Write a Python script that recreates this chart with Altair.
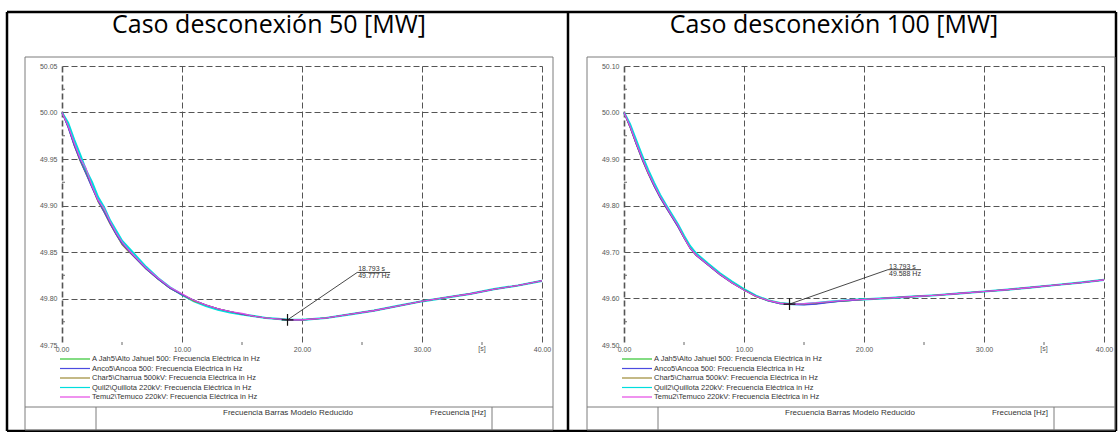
import altair as alt
import pandas as pd

# ---------------------------------------------------------------- data
T = [0, 0.5, 1, 1.5, 2, 2.5, 3, 3.5, 4, 4.5, 5, 5.5, 6, 7, 8, 9, 10, 11, 12,
     13, 14, 15, 16, 17, 18, 19, 20, 22, 24, 26, 28, 30, 32, 34, 36, 38, 40]

NAMES = ["A Jah5\\Alto Jahuel 500", "Anco5\\Ancoa 500", "Char5\\Charrua 500kV",
         "Quil2\\Quillota 220kV", "Temu2\\Temuco 220kV"]
COLORS = ["#2fc42f", "#4b4be0", "#9c8a34", "#00dede", "#e44ae4"]
WIDTHS = [1.1, 1.1, 1.1, 2.2, 1.1]
DRAW_ORDER = [3, 0, 2, 1, 4]

# frequency [Hz], 50 MW disconnection
F50 = {
    "A Jah5\\Alto Jahuel 500": [50.000, 49.985, 49.966, 49.949, 49.935, 49.920, 49.905, 49.894, 49.881, 49.869, 49.859, 49.852, 49.845, 49.832, 49.821, 49.811, 49.804, 49.798, 49.793, 49.789, 49.786, 49.783, 49.781, 49.779, 49.778, 49.777, 49.777, 49.779, 49.783, 49.787, 49.792, 49.797, 49.801, 49.805, 49.810, 49.814, 49.819],
    "Anco5\\Ancoa 500": [50.000, 49.984, 49.965, 49.949, 49.934, 49.919, 49.905, 49.893, 49.881, 49.869, 49.859, 49.852, 49.845, 49.832, 49.821, 49.811, 49.804, 49.798, 49.793, 49.789, 49.786, 49.783, 49.781, 49.779, 49.778, 49.777, 49.777, 49.779, 49.783, 49.787, 49.792, 49.797, 49.801, 49.805, 49.810, 49.814, 49.819],
    "Char5\\Charrua 500kV": [50.000, 49.985, 49.965, 49.948, 49.934, 49.920, 49.904, 49.893, 49.880, 49.869, 49.858, 49.851, 49.845, 49.832, 49.821, 49.811, 49.804, 49.797, 49.793, 49.789, 49.786, 49.783, 49.781, 49.779, 49.778, 49.777, 49.777, 49.779, 49.783, 49.787, 49.792, 49.797, 49.801, 49.805, 49.810, 49.814, 49.819],
    "Quil2\\Quillota 220kV": [50.000, 49.989, 49.971, 49.955, 49.938, 49.925, 49.909, 49.898, 49.884, 49.873, 49.862, 49.855, 49.848, 49.834, 49.822, 49.812, 49.804, 49.797, 49.792, 49.788, 49.785, 49.783, 49.781, 49.779, 49.778, 49.777, 49.777, 49.779, 49.783, 49.787, 49.792, 49.797, 49.801, 49.805, 49.810, 49.814, 49.819],
    "Temu2\\Temuco 220kV": [50.000, 49.986, 49.968, 49.951, 49.940, 49.921, 49.906, 49.897, 49.883, 49.871, 49.861, 49.853, 49.846, 49.833, 49.822, 49.812, 49.805, 49.798, 49.793, 49.789, 49.786, 49.784, 49.781, 49.779, 49.778, 49.777, 49.777, 49.779, 49.783, 49.787, 49.792, 49.797, 49.801, 49.805, 49.810, 49.814, 49.819],
}

# frequency [Hz], 100 MW disconnection
F100 = {
    "A Jah5\\Alto Jahuel 500": [50.000, 49.969, 49.934, 49.901, 49.871, 49.843, 49.818, 49.797, 49.776, 49.755, 49.731, 49.709, 49.694, 49.673, 49.652, 49.634, 49.619, 49.605, 49.596, 49.590, 49.588, 49.587, 49.589, 49.592, 49.594, 49.596, 49.598, 49.601, 49.604, 49.607, 49.611, 49.615, 49.619, 49.624, 49.629, 49.634, 49.640],
    "Anco5\\Ancoa 500": [50.000, 49.969, 49.933, 49.900, 49.870, 49.842, 49.817, 49.796, 49.775, 49.754, 49.730, 49.708, 49.693, 49.672, 49.651, 49.633, 49.618, 49.605, 49.595, 49.589, 49.587, 49.586, 49.588, 49.591, 49.594, 49.596, 49.598, 49.601, 49.604, 49.607, 49.611, 49.615, 49.619, 49.624, 49.629, 49.634, 49.640],
    "Char5\\Charrua 500kV": [50.000, 49.968, 49.933, 49.899, 49.869, 49.842, 49.817, 49.795, 49.775, 49.754, 49.730, 49.708, 49.693, 49.672, 49.651, 49.633, 49.618, 49.604, 49.595, 49.589, 49.587, 49.587, 49.589, 49.592, 49.594, 49.596, 49.598, 49.601, 49.604, 49.607, 49.611, 49.615, 49.619, 49.624, 49.629, 49.634, 49.640],
    "Quil2\\Quillota 220kV": [50.000, 49.975, 49.941, 49.908, 49.877, 49.849, 49.823, 49.801, 49.780, 49.759, 49.735, 49.713, 49.697, 49.675, 49.654, 49.636, 49.620, 49.606, 49.596, 49.590, 49.588, 49.588, 49.590, 49.593, 49.595, 49.597, 49.598, 49.601, 49.604, 49.607, 49.611, 49.615, 49.619, 49.624, 49.629, 49.634, 49.640],
    "Temu2\\Temuco 220kV": [50.000, 49.971, 49.936, 49.903, 49.872, 49.845, 49.820, 49.799, 49.777, 49.757, 49.731, 49.709, 49.694, 49.673, 49.652, 49.634, 49.618, 49.605, 49.596, 49.590, 49.588, 49.589, 49.591, 49.593, 49.595, 49.597, 49.598, 49.601, 49.604, 49.607, 49.611, 49.615, 49.619, 49.624, 49.629, 49.634, 49.640],
}

X_TICKS = [0, 10, 20, 30, 40]
X_MINOR = [5, 15, 25, 35]
Y_TICKS_50 = [49.75, 49.80, 49.85, 49.90, 49.95, 50.00, 50.05]
Y_TICKS_100 = [49.50, 49.60, 49.70, 49.80, 49.90, 50.00, 50.10]

# minimum markers: time [s], frequency [Hz], label anchor time, label anchor frequency
ANN_50 = dict(t=18.793, f=49.777, tl=24.6, fl=49.828)
ANN_100 = dict(t=13.793, f=49.588, tl=22.0, fl=49.662)

TITLES = ["Caso desconexión 50 [MW]", "Caso desconexión 100 [MW]"]
GRAPH_NAME = "Frecuencia Barras Modelo Reducido"
GRAPH_UNIT = "Frecuencia [Hz]"
LEGEND_SUFFIX = ": Frecuencia Eléctrica in Hz"

# ---------------------------------------------------------------- layout
W, H = 480, 279
SMALL = "Liberation Sans"
FRAME = "#7c7c7c"
ONE = pd.DataFrame({"k": [0]})


def seg(x1, y1, x2, y2, color=FRAME, w=1.0):
    return alt.Chart(ONE).mark_rule(color=color, strokeWidth=w).encode(
        x=alt.value(x1), x2=alt.value(x2), y=alt.value(y1), y2=alt.value(y2))


def txt(x, y, text, size=7, align="left", baseline="middle", font=SMALL,
        color="#333333"):
    return alt.Chart(ONE).mark_text(
        text=text, font=font, fontSize=size, align=align, baseline=baseline,
        color=color).encode(x=alt.value(x), y=alt.value(y))


def panel(series, ydom, yticks, title, ann, title_x, outer=False):
    xs = alt.Scale(domain=[0, 40], nice=False, zero=False)
    ys = alt.Scale(domain=ydom, nice=False, zero=False)
    x_axis = alt.Axis(values=X_TICKS, format=".2f", grid=True, gridDash=[6, 3],
                      gridColor="#555555",
                      gridWidth=alt.condition("datum.value == 0", alt.value(1.6), alt.value(1)),
                      domain=False, ticks=False,
                      labelFont=SMALL, labelFontSize=7, labelColor="#555555",
                      labelPadding=0, labelFlush=False, title=None)
    # no grid line along the lower edge
    y_axis = alt.Axis(values=yticks, format=".2f", grid=True, gridDash=[6, 3],
                      gridColor="#555555",
                      gridOpacity=alt.condition(f"datum.value < {ydom[0] + 0.001}",
                                                alt.value(0), alt.value(1)),
                      domain=False, ticks=False,
                      labelFont=SMALL, labelFontSize=7, labelColor="#555555",
                      labelPadding=5, labelFlush=False, title=None)

    def X(field):
        return alt.X(field, type="quantitative", scale=xs, axis=x_axis)

    def Y(field):
        return alt.Y(field, type="quantitative", scale=ys, axis=y_axis)

    rows = []
    for name in NAMES:
        for t, f in zip(T, series[name]):
            rows.append({"t": t, "f": f, "serie": name})
    df = pd.DataFrame(rows)

    layers = []
    if outer:
        # invisible sheet that fixes the page extent
        layers.append(alt.Chart(ONE).mark_rect(opacity=0).encode(
            x=alt.value(-62), x2=alt.value(1056), y=alt.value(-66), y2=alt.value(366)))
        # table borders around both cases
        for a in [(-55, -54, 1054, -54), (-55, 365, 1054, 365),
                  (-55, -54, -55, 365), (1054, -54, 1054, 365),
                  (506, -54, 506, 365)]:
            layers.append(seg(*a, color="#000000", w=2.5))

    # minor ticks
    layers.append(alt.Chart(pd.DataFrame({"t": X_MINOR})).mark_rule(
        color="#666666", strokeWidth=1).encode(
        x=X("t"), y=alt.value(H - 3), y2=alt.value(H)))
    ymid = [(a + b) / 2 for a, b in zip(yticks[:-1], yticks[1:])]
    layers.append(alt.Chart(pd.DataFrame({"f": ymid})).mark_rule(
        color="#666666", strokeWidth=1).encode(
        y=Y("f"), x=alt.value(0), x2=alt.value(3)))
    layers.append(alt.Chart(pd.DataFrame({"t": [35], "s": ["[s]"]})).mark_text(
        font=SMALL, fontSize=7, color="#555555", baseline="top").encode(
        x=X("t"), y=alt.value(H), text="s:N"))

    for i in DRAW_ORDER:
        name = NAMES[i]
        layers.append(alt.Chart(df).transform_filter(
            alt.datum.serie == name).mark_line(
            color=COLORS[i], strokeWidth=WIDTHS[i]).encode(x=X("t"), y=Y("f")))

    # minimum marker with its label
    a = pd.DataFrame([{
        "t": ann["t"], "f": ann["f"], "tl": ann["tl"], "fl": ann["fl"],
        "tu": ann["tl"] + 2.75,
        "l1": f"{ann['t']:.3f} s", "l2": f"{ann['f']:.3f} Hz"}])
    layers.append(alt.Chart(a).mark_rule(color="#333333", strokeWidth=0.9).encode(
        x=X("t"), y=Y("f"), x2="tl:Q", y2="fl:Q"))
    layers.append(alt.Chart(a).mark_rule(color="#333333", strokeWidth=0.9).encode(
        x=X("tl"), x2="tu:Q", y=Y("fl")))
    layers.append(alt.Chart(a).mark_point(
        shape="M-1,0L1,0M0,-1L0,1", filled=False, color="#111111",
        strokeWidth=1.2, size=140, opacity=1).encode(x=X("t"), y=Y("f")))
    layers.append(alt.Chart(a).mark_text(
        font=SMALL, fontSize=7, color="#333333", align="left",
        baseline="bottom", dx=1).encode(x=X("tl"), y=Y("fl"), text="l1:N"))
    layers.append(alt.Chart(a).mark_text(
        font=SMALL, fontSize=7, color="#333333", align="left",
        baseline="top", dx=1).encode(x=X("tl"), y=Y("fl"), text="l2:N"))

    # legend block
    for k, name in enumerate(NAMES):
        ly = 293 + k * 9.5
        layers.append(seg(-2, ly, 28, ly, color=COLORS[k], w=1.2))
        layers.append(txt(30, ly, name + LEGEND_SUFFIX, size=7.5))

    # graphic frame and title block
    layers += [
        seg(-37, -9, 491, -9), seg(-37, 364, 491, 364),
        seg(-37, -9, -37, 364), seg(491, -9, 491, 364),
        seg(-37, 341, 491, 341), seg(34, 341, 34, 364), seg(430, 341, 430, 364),
        txt(161, 347, GRAPH_NAME, size=8),
        txt(424, 347, GRAPH_UNIT, size=8, align="right"),
        txt(title_x, -33, title, size=25, align="center", baseline="alphabetic",
            font="Open Sans", color="#000000"),
    ]

    return alt.layer(*layers).properties(width=W, height=H)


left = panel(F50, [49.75, 50.05], Y_TICKS_50, TITLES[0], ANN_50, 207, outer=True)
right = panel(F100, [49.50, 50.10], Y_TICKS_100, TITLES[1], ANN_100, 210)

chart = alt.hconcat(left, right, spacing=82, bounds="flush").properties(
    autosize=alt.AutoSizeParams(type="pad"),
    padding=0,
    background="#ffffff",
).configure_view(stroke=None)

chart.save("out.html", embed_options={"renderer": "svg", "actions": False})
